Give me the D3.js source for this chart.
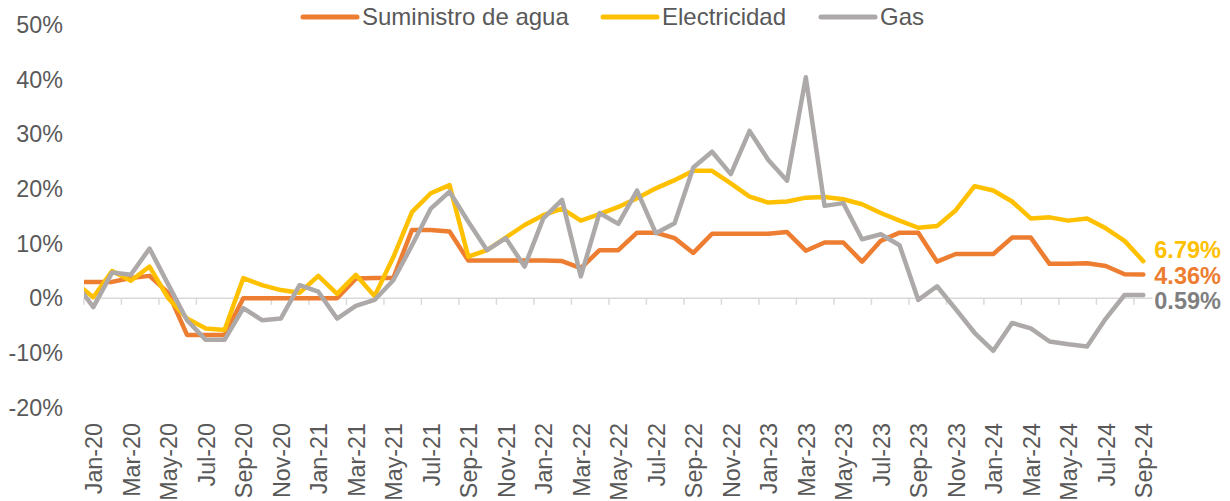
<!DOCTYPE html>
<html>
<head>
<meta charset="utf-8">
<script src="https://cdn.jsdelivr.net/npm/d3@7"></script>
<style>
  body { margin: 0; background: #fff; }
  text { font-family: "Liberation Sans", Arial, sans-serif; }
</style>
</head>
<body>
<svg id="chart" width="1230" height="501"></svg>
<script>
// months shown on the axis (Dec-19 only feeds the clipped stub at the left edge)
var months = ["Dec-19",
  "Jan-20","Feb-20","Mar-20","Apr-20","May-20","Jun-20","Jul-20","Aug-20","Sep-20","Oct-20","Nov-20","Dec-20",
  "Jan-21","Feb-21","Mar-21","Apr-21","May-21","Jun-21","Jul-21","Aug-21","Sep-21","Oct-21","Nov-21","Dec-21",
  "Jan-22","Feb-22","Mar-22","Apr-22","May-22","Jun-22","Jul-22","Aug-22","Sep-22","Oct-22","Nov-22","Dec-22",
  "Jan-23","Feb-23","Mar-23","Apr-23","May-23","Jun-23","Jul-23","Aug-23","Sep-23","Oct-23","Nov-23","Dec-23",
  "Jan-24","Feb-24","Mar-24","Apr-24","May-24","Jun-24","Jul-24","Aug-24","Sep-24"];

var agua = [3.0,
  3.0, 3.0, 3.7, 4.1, 1.0, -6.7, -6.7, -6.7, 0.0, 0.0, 0.0, 0.0,
  0.0, 0.0, 3.6, 3.7, 3.7, 12.5, 12.5, 12.2, 6.9, 6.9, 6.9, 6.9,
  6.9, 6.8, 5.5, 8.8, 8.8, 12.0, 12.0, 11.0, 8.3, 11.8, 11.8, 11.8,
  11.8, 12.1, 8.7, 10.2, 10.2, 6.7, 10.5, 12.0, 12.0, 6.7, 8.1, 8.1,
  8.1, 11.1, 11.1, 6.3, 6.3, 6.4, 5.9, 4.4, 4.36];

var electricidad = [3.0,
  0.2, 5.0, 3.2, 5.8, 0.0, -3.7, -5.5, -5.8, 3.7, 2.4, 1.5, 1.0,
  4.1, 0.8, 4.3, 0.4, 7.5, 15.8, 19.2, 20.7, 7.6, 8.8, 11.1, 13.4,
  15.2, 16.4, 14.2, 15.4, 16.7, 18.3, 20.1, 21.6, 23.3, 23.3, 21.0, 18.6,
  17.5, 17.7, 18.4, 18.5, 18.1, 17.2, 15.6, 14.2, 12.9, 13.2, 16.1, 20.5,
  19.7, 17.7, 14.6, 14.8, 14.2, 14.6, 12.8, 10.5, 6.79];

var gas = [3.0,
  -1.6, 4.7, 4.3, 9.1, 2.5, -4.0, -7.6, -7.6, -1.8, -4.0, -3.7, 2.4,
  1.2, -3.7, -1.4, -0.3, 3.3, 9.7, 16.4, 19.5, 14.0, 8.8, 11.0, 5.8,
  14.6, 18.0, 4.0, 15.6, 13.6, 19.7, 11.9, 13.7, 23.9, 26.8, 22.7, 30.6,
  25.3, 21.5, 40.4, 16.9, 17.4, 10.8, 11.7, 9.7, -0.3, 2.2, -2.0, -6.3,
  -9.6, -4.5, -5.5, -7.9, -8.4, -8.8, -3.7, 0.6, 0.59];

var seriesNames = ["Suministro de agua", "Electricidad", "Gas"];
var endLabels = ["4.36%", "6.79%", "0.59%"];
var yTicks = [-20, -10, 0, 10, 20, 30, 40, 50];

var colors = ["#ED7D31", "#FFC000", "#ADA9A9"];
var labelColors = ["#ED7D31", "#FFC000", "#7F7F7F"];
var labelShift = [1.5, -11, 5.5];   // manual nudges so the end labels don't collide

var svg = d3.select("#chart");

var plotLeft = 84, plotRight = 1152.7;

// first real month (Jan-20) sits half a step inside the plot
var x = d3.scalePoint()
  .domain(months)
  .range([74.55, 1143.3]);

var y = d3.scaleLinear()
  .domain([-20, 50])
  .range([407.7, 24.8]);

var half = x.step() / 2;

// y labels
svg.append("g")
  .selectAll("text")
  .data(yTicks)
  .enter().append("text")
  .attr("x", 63)
  .attr("y", function(d) { return y(d); })
  .attr("dy", "0.35em")
  .attr("text-anchor", "end")
  .attr("font-size", "23.3px")
  .attr("fill", "#595959")
  .text(function(d) { return d + "%"; });

// zero axis line + ticks
svg.append("line")
  .attr("x1", plotLeft).attr("x2", plotRight)
  .attr("y1", y(0)).attr("y2", y(0))
  .attr("stroke", "#D9D9D9")
  .attr("stroke-width", 1.5);

var labelled = months.slice(1).filter(function(d, i) { return i % 2 === 0; });

svg.append("g")
  .selectAll("line")
  .data(labelled)
  .enter().append("line")
  .attr("x1", function(d) { return x(d) - half; })
  .attr("x2", function(d) { return x(d) - half; })
  .attr("y1", y(0))
  .attr("y2", y(0) + 6.5)
  .attr("stroke", "#D9D9D9")
  .attr("stroke-width", 1.5);

// month labels, rotated
svg.append("g")
  .selectAll("text")
  .data(labelled)
  .enter().append("text")
  .attr("transform", function(d) { return "translate(" + (x(d) + 1) + ",423) rotate(-90)"; })
  .attr("dy", "0.35em")
  .attr("text-anchor", "end")
  .attr("font-size", "23.3px")
  .attr("fill", "#595959")
  .text(function(d) { return d; });

// lines
svg.append("clipPath")
  .attr("id", "plotclip")
  .append("rect")
  .attr("x", plotLeft)
  .attr("y", 0)
  .attr("width", 1230 - plotLeft)
  .attr("height", 501);

var line = d3.line()
  .x(function(d, i) { return x(months[i]); })
  .y(function(d) { return y(d); });

var allSeries = [agua, electricidad, gas];
var drawOrder = [0, 1, 2];

svg.append("g")
  .attr("clip-path", "url(#plotclip)")
  .selectAll("path")
  .data(drawOrder)
  .enter().append("path")
  .attr("d", function(k) { return line(allSeries[k]); })
  .attr("fill", "none")
  .attr("stroke", function(k) { return colors[k]; })
  .attr("stroke-width", 4.5)
  .attr("stroke-linejoin", "round")
  .attr("stroke-linecap", "round");

// end-of-line value labels
var last = months[months.length - 1];
svg.append("g")
  .selectAll("text")
  .data(drawOrder)
  .enter().append("text")
  .attr("x", x(last) + 11)
  .attr("y", function(k) { return y(allSeries[k][allSeries[k].length - 1]) + labelShift[k]; })
  .attr("dy", "0.35em")
  .attr("font-size", "23.5px")
  .attr("font-weight", "bold")
  .attr("fill", function(k) { return labelColors[k]; })
  .text(function(k) { return endLabels[k]; });

// legend
var legendX = [303, 603, 821];
var legend = svg.append("g")
  .selectAll("g")
  .data(seriesNames)
  .enter().append("g")
  .attr("transform", function(d, i) { return "translate(" + legendX[i] + ",17)"; });

legend.append("line")
  .attr("x1", 0).attr("x2", 54)
  .attr("stroke", function(d, i) { return colors[i]; })
  .attr("stroke-width", 5)
  .attr("stroke-linecap", "round");

legend.append("text")
  .attr("x", 59)
  .attr("dy", "0.35em")
  .attr("font-size", "24px")
  .attr("fill", "#595959")
  .text(function(d) { return d; });
</script>
</body>
</html>
